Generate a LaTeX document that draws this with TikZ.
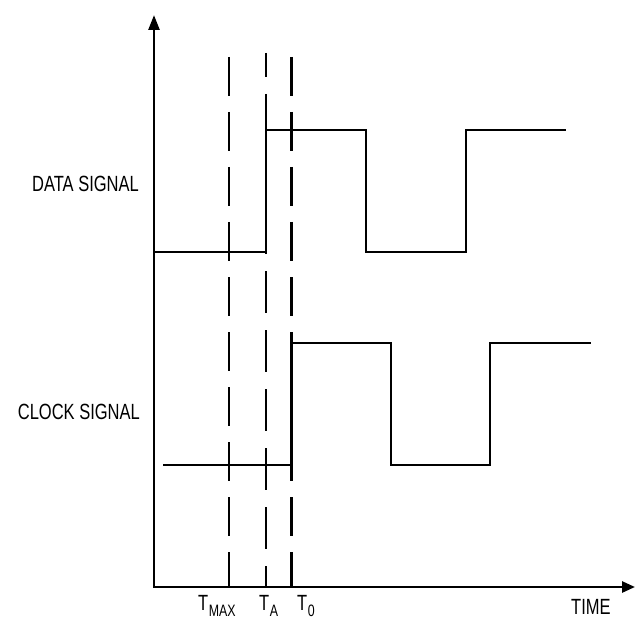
\documentclass[tikz,border=0pt]{standalone}
\usepackage{fontspec}
\setmainfont{Liberation Sans}[FakeStretch=0.75]
\usetikzlibrary{arrows.meta}
\begin{document}
\begin{tikzpicture}[x=1pt,y=-1pt,
  sig/.style={line width=2.6pt, line join=miter},
  axis/.style={line width=2.6pt, line join=miter, {Triangle[length=15pt,width=11pt]}-{Triangle[length=13pt,width=11pt]}},
  dashA/.style={line width=2.6pt, dash pattern=on 39pt off 16pt},
  dashB/.style={line width=2.6pt, dash pattern=on 42pt off 17pt, dash phase=18pt},
  lbl/.style={font=\fontsize{22}{26}\selectfont, inner sep=0pt}]
\useasboundingbox (0,0) rectangle (639,620);
% axes
\coordinate (O) at (154,587);
\coordinate (ytip) at (154,15);
\coordinate (xtip) at (635,587);
\draw[axis] (ytip) -- (O) -- (xtip);
% dashed time markers
\coordinate (tmaxtop) at (229,57);
\coordinate (tmaxbot) at (229,587);
\coordinate (tatop) at (266,53);
\coordinate (tabot) at (266,587);
\coordinate (t0top) at (291.5,57);
\coordinate (t0bot) at (291.5,587);
\draw[dashA] (tmaxtop) -- (tmaxbot);
\draw[dashB] (tatop) -- (tabot);
\draw[dashA] (t0top) -- (t0bot);
% data signal
\draw[sig] (154,252) -- (266,252) -- (266,130) -- (366,130) -- (366,252) -- (466,252) -- (466,130) -- (566,130);
% clock signal
\draw[sig] (163,465) -- (291.5,465) -- (291.5,343) -- (391,343) -- (391,465) -- (490,465) -- (490,343) -- (591,343);
% labels
\node[lbl, anchor=base east] (data) at (139,192) {DATA SIGNAL};
\node[lbl, anchor=base east] (clock) at (140,419) {CLOCK SIGNAL};
\node[lbl, anchor=base west] (time) at (571,614) {TIME};
\node[lbl, anchor=base west] (tmax) at (198,610) {T\kern0.5pt\raisebox{-6.5pt}{\fontsize{16.5}{18}\selectfont MAX}};
\node[lbl, anchor=base west] (ta) at (259,610) {T\kern0.5pt\raisebox{-6.5pt}{\fontsize{16.5}{18}\selectfont A}};
\node[lbl, anchor=base west] (tz) at (297,610) {T\kern0.5pt\raisebox{-6.5pt}{\fontsize{16.5}{18}\selectfont 0}};
\end{tikzpicture}
\end{document}
